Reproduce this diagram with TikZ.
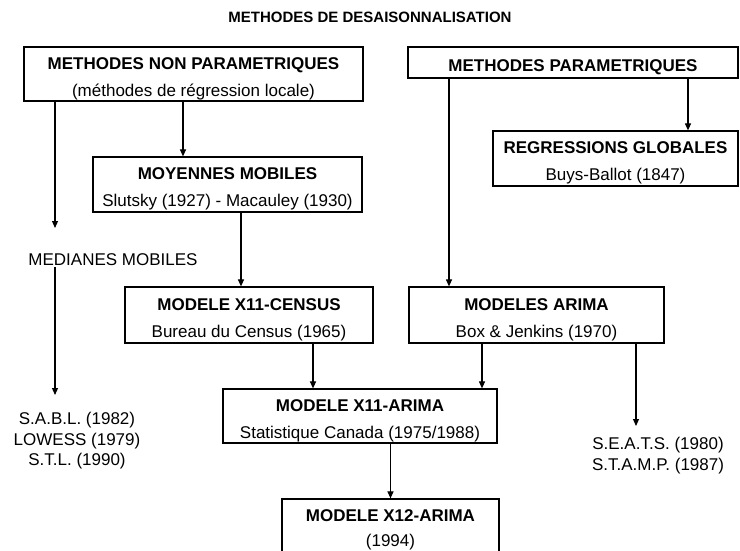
\documentclass[tikz,border=0pt]{standalone}
\usepackage{fontspec}
\setmainfont{Liberation Sans}
\usetikzlibrary{arrows.meta}
\newcommand{\haut}[1][21pt]{\rule{0pt}{#1}}
\tikzset{
  bx/.style={draw,line width=1.2pt,inner sep=0pt,align=center,font=\fontsize{17}{27}\selectfont},
  ar/.style={line width=1.1pt,-{Triangle[length=7pt,width=6pt]}},
  lbl/.style={align=center,inner sep=0pt,font=\fontsize{17}{20.5}\selectfont}
}

\begin{document}
\begin{tikzpicture}[x=1pt,y=-1pt]
\useasboundingbox (0,0) rectangle (740,550);
\node[font=\bfseries\fontsize{15}{17}\selectfont] (titre) at (370,17.5) {METHODES DE DESAISONNALISATION};

% boites
\node[bx,minimum width=339pt,minimum height=54pt] (nonpar) at (193.5,74) {\haut\textbf{METHODES NON PARAMETRIQUES}\\(méthodes de régression locale)};
\node[bx,minimum width=330pt,minimum height=31pt] (param) at (573,62.5) {\haut\textbf{METHODES PARAMETRIQUES}};
\node[bx,minimum width=269pt,minimum height=55pt] (moy) at (227.5,184.5) {\haut\textbf{MOYENNES MOBILES}\\Slutsky (1927) - Macauley (1930)};
\node[bx,minimum width=245pt,minimum height=55pt] (reg) at (615.5,158.5) {\haut\textbf{REGRESSIONS GLOBALES}\\Buys-Ballot (1847)};
\node[bx,minimum width=248pt,minimum height=56pt] (census) at (249,315) {\haut\textbf{MODELE X11-CENSUS}\\Bureau du Census (1965)};
\node[bx,minimum width=255pt,minimum height=56pt] (arima) at (536.5,315) {\haut\textbf{MODELES ARIMA}\\Box \& Jenkins (1970)};
\node[bx,minimum width=274pt,minimum height=54pt] (xonze) at (360,416) {\haut\textbf{MODELE X11-ARIMA}\\Statistique Canada (1975/1988)};
\node[bx,minimum width=217pt,minimum height=55pt,font=\fontsize{17}{25}\selectfont] (xdouze) at (390.5,526.5) {\haut[18pt]\textbf{MODELE X12-ARIMA}\\(1994)};

% textes libres
\node[lbl] (med) at (113,260) {MEDIANES MOBILES};
\node[lbl] (sabl) at (77,441) {S.A.B.L. (1982)\\LOWESS (1979)\\S.T.L. (1990)};
\node[lbl] (seats) at (658,455.5) {S.E.A.T.S. (1980)\\S.T.A.M.P. (1987)};

% colonnes des fleches
\coordinate (cB) at (183,0);
\coordinate (cC) at (241,0);
\coordinate (cD) at (313,0);
\coordinate (cE) at (449,0);
\coordinate (cF) at (482,0);
\coordinate (cH) at (688,0);
\coordinate (medtop) at (55,228);
\coordinate (medbot) at (55,267);
\coordinate (sabltop) at (55,395);
\coordinate (seatstop) at (636,426);

\draw[ar] (nonpar.south -| medtop) -- (medtop);
\draw[ar] (medbot) -- (sabltop);
\draw[ar] (nonpar.south -| cB) -- (moy.north -| cB);
\draw[ar] (moy.south -| cC) -- (census.north -| cC);
\draw[ar] (param.south -| cH) -- (reg.north -| cH);
\draw[ar] (param.south -| cE) -- (arima.north -| cE);
\draw[ar] (census.south -| cD) -- (xonze.north -| cD);
\draw[ar] (arima.south -| cF) -- (xonze.north -| cF);
\draw[ar] (arima.south -| seatstop) -- (seatstop);
\draw[ar] (xonze.south -| xdouze.north) -- (xdouze.north);
\end{tikzpicture}
\end{document}
